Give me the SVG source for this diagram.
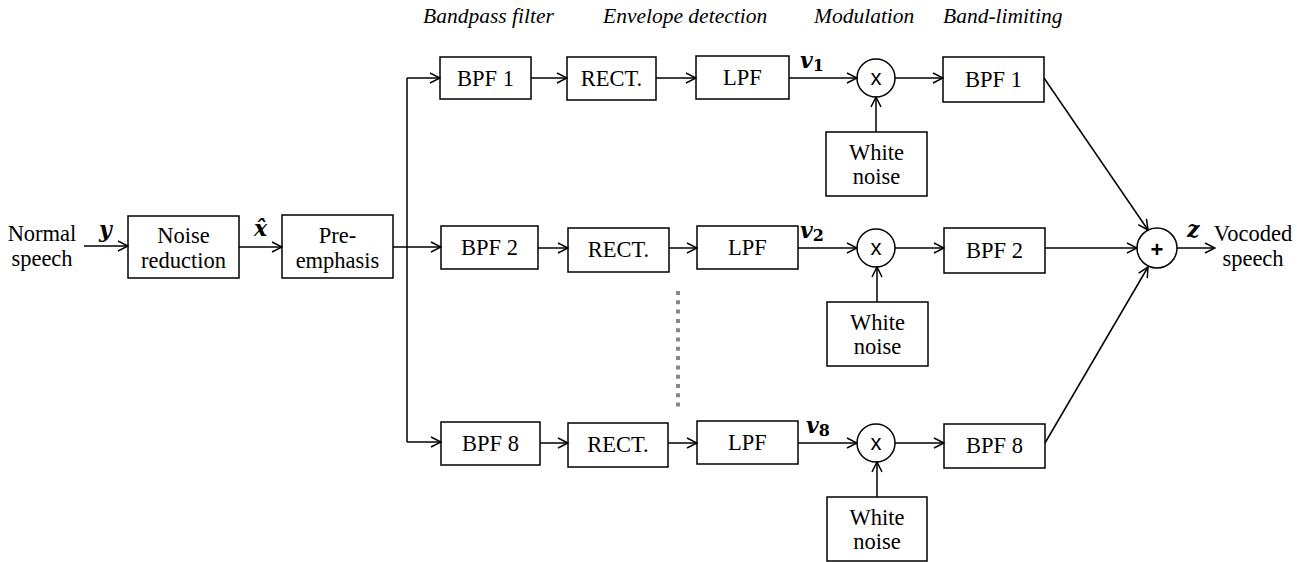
<svg xmlns="http://www.w3.org/2000/svg" width="1301" height="562" viewBox="0 0 1301 562">
<style>
.box{fill:#fff;stroke:#000;stroke-width:1.5}
.lbl{font-family:"Liberation Serif","Times New Roman",serif;font-size:22.5px;fill:#000;text-anchor:middle}
.hdr{font-family:"Liberation Serif","Times New Roman",serif;font-size:21.5px;font-style:italic;fill:#000}
.math{font-family:"DejaVu Serif","Liberation Serif",serif;font-size:22px;font-style:italic;font-weight:bold;fill:#000}
.sub{font-style:normal;font-size:16px}
.op{font-family:"Liberation Sans",Arial,sans-serif;font-size:22px;fill:#000;text-anchor:middle}
.ln{fill:none;stroke:#000;stroke-width:1.5}
.arr{fill:none;stroke:#000;stroke-width:1.5;marker-end:url(#ah)}
</style>
<defs>
<marker id="ah" viewBox="0 0 12 12" refX="11" refY="6" markerWidth="12" markerHeight="12" markerUnits="userSpaceOnUse" orient="auto">
<path d="M1,1 L11,6 L1,11" fill="none" stroke="#000" stroke-width="1.5"/>
</marker>
</defs>
<rect width="1301" height="562" fill="#fff"/>

<g id="headers">
<text class="hdr" x="423" y="23">Bandpass filter</text>
<text class="hdr" x="603" y="23">Envelope detection</text>
<text class="hdr" x="814" y="23">Modulation</text>
<text class="hdr" x="943" y="23">Band-limiting</text>
</g>

<g id="input-label">
<text class="lbl" x="42" y="241">Normal</text>
<text class="lbl" x="42" y="266">speech</text>
</g>
<g id="noise-reduction">
<rect class="box" x="128" y="216" width="111" height="62"/>
<text class="lbl" x="183.5" y="243">Noise</text>
<text class="lbl" x="183.5" y="268">reduction</text>
</g>
<g id="pre-emphasis">
<rect class="box" x="282" y="215" width="111" height="63"/>
<text class="lbl" x="337.5" y="243">Pre-</text>
<text class="lbl" x="337.5" y="268">emphasis</text>
</g>

<g id="bpf1"><rect class="box" x="440" y="57" width="91" height="42"/><text class="lbl" x="485.5" y="86">BPF 1</text></g>
<g id="rect1"><rect class="box" x="567" y="57" width="89" height="43"/><text class="lbl" x="611.5" y="86">RECT.</text></g>
<g id="lpf1"><rect class="box" x="696" y="56" width="93" height="43"/><text class="lbl" x="742.5" y="85">LPF</text></g>
<g id="mul1"><circle class="box" cx="876" cy="78" r="19"/><text class="op" x="876" y="85">x</text></g>
<g id="noise1"><rect class="box" x="826" y="132" width="101" height="64"/><text class="lbl" x="876.5" y="160">White</text><text class="lbl" x="876.5" y="184">noise</text></g>
<g id="bl1"><rect class="box" x="943" y="57" width="101" height="45"/><text class="lbl" x="993.5" y="87">BPF 1</text></g>

<g id="bpf2"><rect class="box" x="441" y="226" width="97" height="43"/><text class="lbl" x="489.5" y="255">BPF 2</text></g>
<g id="rect2"><rect class="box" x="568" y="228" width="101" height="44"/><text class="lbl" x="618.5" y="257">RECT.</text></g>
<g id="lpf2"><rect class="box" x="697" y="226" width="101" height="43"/><text class="lbl" x="747.5" y="255">LPF</text></g>
<g id="mul2"><circle class="box" cx="876" cy="248" r="19"/><text class="op" x="876" y="255">x</text></g>
<g id="noise2"><rect class="box" x="827" y="302" width="101" height="64"/><text class="lbl" x="877.5" y="330">White</text><text class="lbl" x="877.5" y="354">noise</text></g>
<g id="bl2"><rect class="box" x="944" y="228" width="101" height="45"/><text class="lbl" x="994.5" y="258">BPF 2</text></g>

<g id="bpf8"><rect class="box" x="441" y="422" width="99" height="43"/><text class="lbl" x="490.5" y="451">BPF 8</text></g>
<g id="rect8"><rect class="box" x="568" y="423" width="100" height="44"/><text class="lbl" x="618" y="452">RECT.</text></g>
<g id="lpf8"><rect class="box" x="697" y="421" width="101" height="43"/><text class="lbl" x="747.5" y="450">LPF</text></g>
<g id="mul8"><circle class="box" cx="876" cy="443" r="19"/><text class="op" x="876" y="450">x</text></g>
<g id="noise8"><rect class="box" x="827" y="497" width="100" height="64"/><text class="lbl" x="877" y="525">White</text><text class="lbl" x="877" y="549">noise</text></g>
<g id="bl8"><rect class="box" x="944" y="424" width="101" height="44"/><text class="lbl" x="994.5" y="453">BPF 8</text></g>

<g id="sum"><circle class="box" cx="1157" cy="248" r="20"/><text class="op" x="1157" y="257" font-size="27" font-weight="bold">+</text></g>
<g id="output-label">
<text class="lbl" x="1253" y="241">Vocoded</text>
<text class="lbl" x="1253" y="266">speech</text>
</g>

<g id="math-labels">
<text class="math" x="99" y="237">y</text>
<text class="math" x="254" y="236">x̂</text>
<text class="math" x="800" y="68">v<tspan class="sub" dy="3">1</tspan></text>
<text class="math" x="800" y="238">v<tspan class="sub" dy="3">2</tspan></text>
<text class="math" x="806" y="433">v<tspan class="sub" dy="3">8</tspan></text>
<text class="math" x="1187" y="237">z</text>
</g>

<g id="connectors">
<line class="arr" x1="84" y1="246" x2="128" y2="246"/>
<line class="arr" x1="239" y1="247" x2="282" y2="247"/>
<line class="ln" x1="393" y1="247" x2="407" y2="247"/>
<line class="ln" x1="407" y1="78" x2="407" y2="442"/>
<line class="arr" x1="407" y1="78" x2="440" y2="78"/>
<line class="arr" x1="407" y1="247" x2="441" y2="247"/>
<line class="arr" x1="407" y1="442" x2="441" y2="442"/>

<line class="arr" x1="531" y1="78" x2="567" y2="78"/>
<line class="arr" x1="656" y1="78" x2="696" y2="78"/>
<line class="arr" x1="789" y1="78" x2="857" y2="78"/>
<line class="arr" x1="876" y1="132" x2="876" y2="97"/>
<line class="arr" x1="895" y1="78" x2="943" y2="78"/>

<line class="arr" x1="538" y1="248" x2="568" y2="248"/>
<line class="arr" x1="669" y1="248" x2="697" y2="248"/>
<line class="arr" x1="798" y1="248" x2="857" y2="248"/>
<line class="arr" x1="877" y1="302" x2="877" y2="267"/>
<line class="arr" x1="895" y1="248" x2="944" y2="248"/>

<line class="arr" x1="540" y1="443" x2="568" y2="443"/>
<line class="arr" x1="668" y1="443" x2="697" y2="443"/>
<line class="arr" x1="798" y1="443" x2="857" y2="443"/>
<line class="arr" x1="877" y1="497" x2="877" y2="462"/>
<line class="arr" x1="895" y1="443" x2="944" y2="443"/>

<line class="arr" x1="1044" y1="78" x2="1148" y2="230"/>
<line class="arr" x1="1045" y1="248" x2="1137" y2="248"/>
<line class="arr" x1="1045" y1="443" x2="1148" y2="267"/>
<line class="arr" x1="1177" y1="248" x2="1215" y2="248"/>

<line x1="678" y1="291" x2="678" y2="412" stroke="#888" stroke-width="4" stroke-dasharray="4 5.3"/>
</g>
</svg>
